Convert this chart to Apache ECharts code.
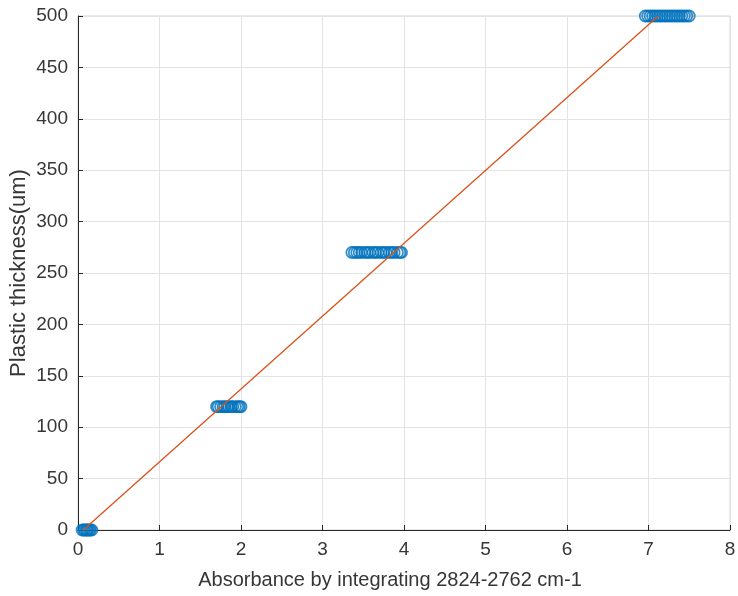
<!DOCTYPE html>
<html>
<head>
<meta charset="utf-8">
<script src="https://cdn.jsdelivr.net/npm/echarts@6/dist/echarts.min.js"></script>
<style>
  html, body { margin: 0; padding: 0; background: #fff; }
  #chart { width: 738px; height: 596px; }
</style>
</head>
<body>
<div id="chart"></div>
<script>
// Measured absorbance for each plastic thickness group
const thickness = [0, 120, 270, 500];
const absorbance0   = [0.05, 0.07, 0.08, 0.10, 0.11, 0.12, 0.14, 0.15, 0.17];
const absorbance120 = [1.70, 1.72, 1.75, 1.78, 1.80, 1.83, 1.85, 1.88, 1.90, 1.93, 1.96, 1.98, 2.00];
const absorbance270 = [3.36, 3.39, 3.42, 3.45, 3.48, 3.52, 3.55, 3.58, 3.62, 3.65, 3.68, 3.72, 3.75,
                       3.78, 3.82, 3.85, 3.88, 3.92, 3.95, 3.97];
const absorbance500 = [6.96, 6.99, 7.02, 7.05, 7.08, 7.11, 7.14, 7.17, 7.20, 7.23, 7.26, 7.29, 7.32,
                       7.35, 7.38, 7.41, 7.44, 7.47, 7.50];

// Linear calibration fit endpoints
const fitX = [0.065, 7.12];
const fitY = [0, 500];

const groups = [absorbance0, absorbance120, absorbance270, absorbance500];
const scatterData = [];
groups.forEach((xs, i) => xs.forEach(x => scatterData.push([x, thickness[i]])));
const fitData = fitX.map((x, i) => [x, fitY[i]]);

const axisColor = '#262626';
const textColor = '#363636';
const gridColor = '#e3e3e3';
const font = '"Liberation Sans", Arial, Helvetica, sans-serif';

const chart = echarts.init(document.getElementById('chart'), null, { renderer: 'canvas' });
chart.setOption({
  animation: false,
  backgroundColor: '#ffffff',
  grid: {
    left: 78, top: 16, width: 652, height: 514,
    outerBoundsMode: 'none', containLabel: false,
    show: true, borderColor: '#d4d4d4', borderWidth: 1, backgroundColor: 'transparent'
  },
  xAxis: {
    type: 'value', min: 0, max: 8, interval: 1,
    name: 'Absorbance by integrating 2824-2762 cm-1',
    nameLocation: 'middle', nameGap: 40, nameMoveOverlap: false,
    nameTextStyle: { color: textColor, fontSize: 20, fontFamily: font, padding: [0, 28, 0, 0] },
    axisLine: { show: true, onZero: false, lineStyle: { color: axisColor, width: 1 } },
    axisTick: { show: true, inside: true, length: 5, lineStyle: { color: axisColor } },
    axisLabel: { color: textColor, fontSize: 19, fontFamily: font, margin: 10 },
    splitLine: { show: true, lineStyle: { color: gridColor, width: 1 } }
  },
  yAxis: {
    type: 'value', min: 0, max: 500, interval: 50,
    name: 'Plastic thickness(um)',
    nameLocation: 'middle', nameGap: 48, nameMoveOverlap: false,
    nameTextStyle: { color: textColor, fontSize: 22, fontFamily: font },
    axisLine: { show: true, onZero: false, lineStyle: { color: axisColor, width: 1 } },
    axisTick: { show: true, inside: true, length: 5, lineStyle: { color: axisColor } },
    axisLabel: { color: textColor, fontSize: 19, fontFamily: font, margin: 10 },
    splitLine: { show: true, lineStyle: { color: gridColor, width: 1 } }
  },
  series: [
    {
      type: 'scatter',
      data: scatterData,
      symbol: 'circle',
      symbolSize: 11,
      itemStyle: { color: 'rgba(0,114,189,0)', borderColor: '#0072BD', borderWidth: 1.8 },
      z: 2
    },
    {
      type: 'line',
      data: fitData,
      showSymbol: false,
      symbol: 'none',
      lineStyle: { color: '#D95319', width: 1.3 },
      z: 3
    }
  ]
});
</script>
</body>
</html>
